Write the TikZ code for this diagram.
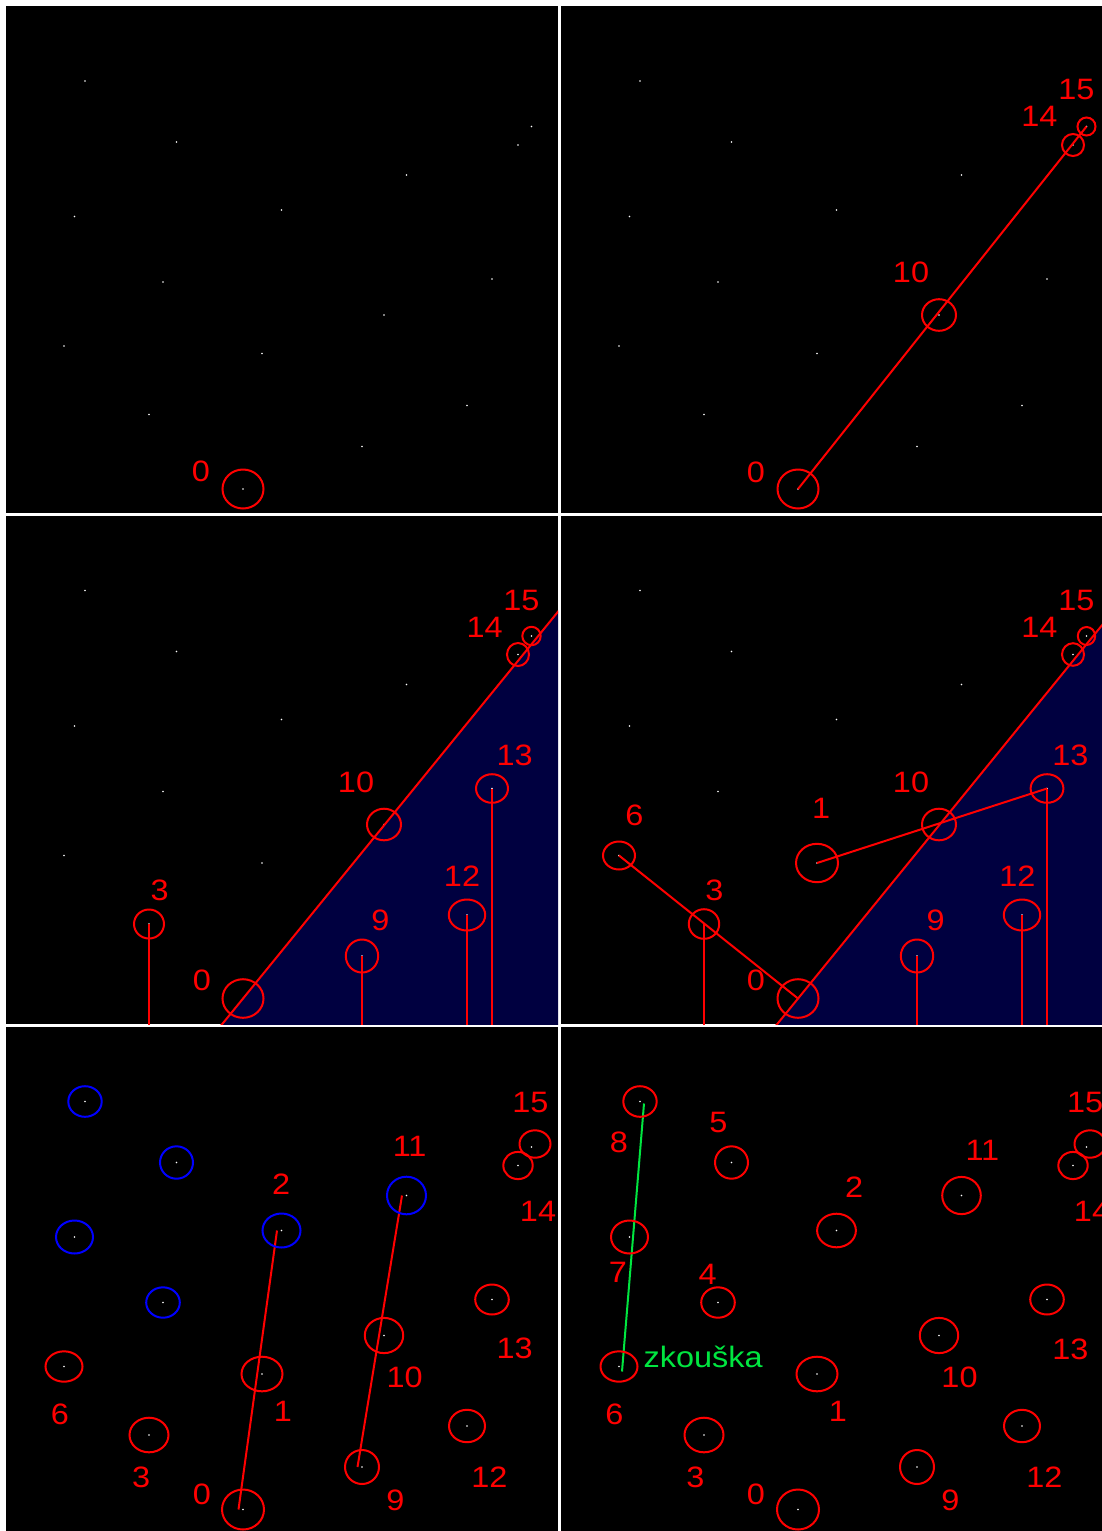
\documentclass[tikz,border=0pt]{standalone}
\usepackage{fontspec}
\newfontfamily\labfont[FakeStretch=1.1]{Liberation Sans}
\definecolor{navyfill}{RGB}{0,0,64}
\definecolor{mkred}{RGB}{255,0,0}
\definecolor{mkblue}{RGB}{0,0,255}
\definecolor{mkgreen}{RGB}{0,230,64}
\tikzset{
  panelbg/.style={fill=black},
  dotmark/.style={fill=white},
  ring/.style={draw=mkred, line width=2pt},
  bluering/.style={draw=mkblue, line width=2pt},
  redline/.style={draw=mkred, line width=2pt},
  greenline/.style={draw=mkgreen, line width=2pt},
  lbl/.style={text=mkred, inner sep=0pt, font=\labfont\fontsize{29.5}{30}\selectfont},
  greenlbl/.style={lbl, text=mkgreen},
}
\newcommand\ptset{0/243/489, 1/262/353.5, 2/281.5/210, 3/149/414.5, 4/163/282, 5/176.5/142, 6/64/346, 7/74.5/216.5, 8/85/81, 9/362/446.5, 10/384/315, 11/406.5/175, 12/467/405.5, 13/492/279, 14/518/145, 15/531.5/126.5}
\newcommand\putlabels[4]{\foreach \t/\x/\y in {#4}{\node[lbl] (#1-t\t) at (\x+#2,\y+#3) {\t};}}
\newcommand\putrings[3]{\foreach \i/\rx/\ry in {#3}{\draw[#2] (#1-\i) ellipse[x radius=\rx, y radius=\ry];}}
\newcommand\putdots[1]{\foreach \i in {0,...,15}{\fill[dotmark] (#1-\i) circle[radius=0.9pt];}}
\begin{document}
\begin{tikzpicture}[x=1pt,y=-1pt]
\useasboundingbox (0,0) rectangle (1102,1531);
\clip (0,0) rectangle (1102,1531);
\fill[white] (0,0) rectangle (1102,1531);
% panel backgrounds
\fill[panelbg] (6,6) rectangle (558,513);
\fill[panelbg] (561,6) rectangle (1113,513);
\fill[panelbg] (6,516) rectangle (558,1024);
\fill[panelbg] (561,516) rectangle (1113,1024);
\fill[panelbg] (6,1027) rectangle (558,1535);
\fill[panelbg] (561,1027) rectangle (1113,1535);
% point coordinates in each panel
\foreach \pn/\dx/\dy in {A/0/0,B/555/0,C/0/509.5,D/555/509.5,E/0/1020.5,F/555/1020.5}{
  \foreach \i/\x/\y in \ptset {\coordinate (\pn-\i) at (\x+\dx,\y+\dy);}
}
% ---------------- panel A ----------------
\begin{scope}
\clip (6,6) rectangle (558,513);
\putdots{A}
\putrings{A}{ring}{0/20.5/19.5}
\putlabels{A}{0}{0}{0/201/471.7}
\end{scope}
% ---------------- panel B ----------------
\begin{scope}
\clip (561,6) rectangle (1113,513);
\putdots{B}
\draw[redline] (B-0) -- (B-15);
\putrings{B}{ring}{0/20.5/19.5, 10/17/15.8, 14/11/11, 15/9/9}
\putlabels{B}{555}{0}{0/201/472.7, 10/356/272.7, 14/484.4/116.7, 15/521.4/89.3}
\end{scope}
% ---------------- panel C ----------------
\begin{scope}
\clip (6,516) rectangle (558,1024);
\coordinate (C-lo) at (217.8,1029.5);
\coordinate (C-hi) at (565,603.1);
\coordinate (C-corner) at (565,1029.5);
\coordinate (C-bot) at (0,1030);
\fill[navyfill] (C-lo) -- (C-hi) -- (C-corner) -- cycle;
\putdots{C}
\draw[redline] (C-lo) -- (C-hi);
\foreach \i in {3,9,12,13}{\draw[redline] (C-\i) -- (C-\i |- C-bot);}
\putrings{C}{ring}{0/20.5/19.3, 3/15/14.5, 9/16.2/16.5, 10/17/15.8, 12/18.2/15.5, 13/16/14.3, 14/11/11.5, 15/9.2/9.2}
\putlabels{C}{0}{509.5}{15/521.4/91.2, 14/484.6/118.2, 13/514.6/245.5, 10/356/273.2, 12/462/366.5, 9/380.4/410.5, 3/159.6/380.5, 0/201.8/471.2}
\end{scope}
% ---------------- panel D ----------------
\begin{scope}
\clip (561,516) rectangle (1113,1024);
\coordinate (D-lo) at (772.8,1029.5);
\coordinate (D-hi) at (1120,603.1);
\coordinate (D-corner) at (1120,1029.5);
\coordinate (D-bot) at (0,1030);
\fill[navyfill] (D-lo) -- (D-hi) -- (D-corner) -- cycle;
\putdots{D}
\draw[redline] (D-lo) -- (D-hi);
\foreach \i in {3,9,12,13}{\draw[redline] (D-\i) -- (D-\i |- D-bot);}
\draw[redline] (D-6) -- (D-0);
\draw[redline] (D-1) -- (D-13);
\putrings{D}{ring}{0/20.5/19.3, 1/21/19.2, 3/15.2/14.8, 6/16/14, 9/16.2/16.5, 10/17/15.8, 12/18.2/15.5, 13/16.4/14.3, 14/11/11.3, 15/8.7/9}
\putlabels{D}{555}{509.5}{15/521.4/91.2, 14/484.4/118.2, 13/515.4/245.5, 10/356/273.2, 12/462.3/366.5, 9/380.6/410.5, 3/159.4/380.5, 0/201/471.2, 6/79.5/305.5, 1/266.1/298.8}
\end{scope}
% ---------------- panel E ----------------
\begin{scope}
\clip (6,1027) rectangle (558,1535);
\putdots{E}
\draw[redline] ([xshift=-4.5pt]E-0) -- ([xshift=-4.5pt]E-2);
\draw[redline] ([xshift=-4.5pt]E-9) -- ([xshift=-4.5pt]E-11);
\putrings{E}{ring}{0/21/20, 1/20.5/17.3, 3/19.5/17.3, 6/18.5/15.2, 9/17/17, 10/19.2/17.6, 12/18/16.2, 13/16.8/15, 14/14.7/13.6}
\putrings{E}{bluering}{2/19/17, 4/16.8/15.2, 5/16.5/16.2, 7/18.5/16.5, 8/16.7/15.3, 11/19.5/18.8}
\draw[ring] ([shift={(3.5pt,3pt)}]E-15) ellipse[x radius=15.5, y radius=13.7];
\putlabels{E}{0}{1020.5}{15/530.4/82.2, 11/409.6/126.2, 2/281.1/163.5, 14/538/191.2, 13/514.6/327.8, 10/404.6/357.2, 1/282.9/391.2, 6/60/393.8, 3/141.1/457.2, 0/201.8/473.8, 9/395.4/479.5, 12/489.3/456.2}
\end{scope}
% ---------------- panel F ----------------
\begin{scope}
\clip (561,1027) rectangle (1113,1535);
\putdots{F}
\draw[greenline] ([shift={(3pt,-5pt)}]F-6) -- ([shift={(4pt,-2pt)}]F-8);
\putrings{F}{ring}{0/21/20, 1/20.5/17.3, 2/19.4/16.8, 3/19.5/17.3, 4/16.8/15.2, 5/16.5/16.2, 6/18.5/15.2, 7/18.5/16.5, 8/16.7/15.3, 9/17/17, 10/19.2/17.6, 11/19.3/18.6, 12/18/16.2, 13/16.8/15, 14/14.7/13.6}
\draw[ring] ([shift={(3.5pt,3pt)}]F-15) ellipse[x radius=15.5, y radius=13.7];
\putlabels{F}{555}{1020.5}{8/64/121.8, 5/163.3/101.8, 2/299.2/166.8, 11/427.4/130.2, 15/530.2/81.8, 14/537/191.2, 7/63/252.2, 4/152.7/253.5, 13/515.4/328.5, 10/404.5/357.2, 1/283/391.2, 6/59.4/393.8, 3/140.4/457.2, 0/201/473.8, 9/395.4/479.5, 12/489.4/456.2}
\node[greenlbl] (F-test) at (703.2,1356.7) {zkouška};
\end{scope}
\end{tikzpicture}
\end{document}
